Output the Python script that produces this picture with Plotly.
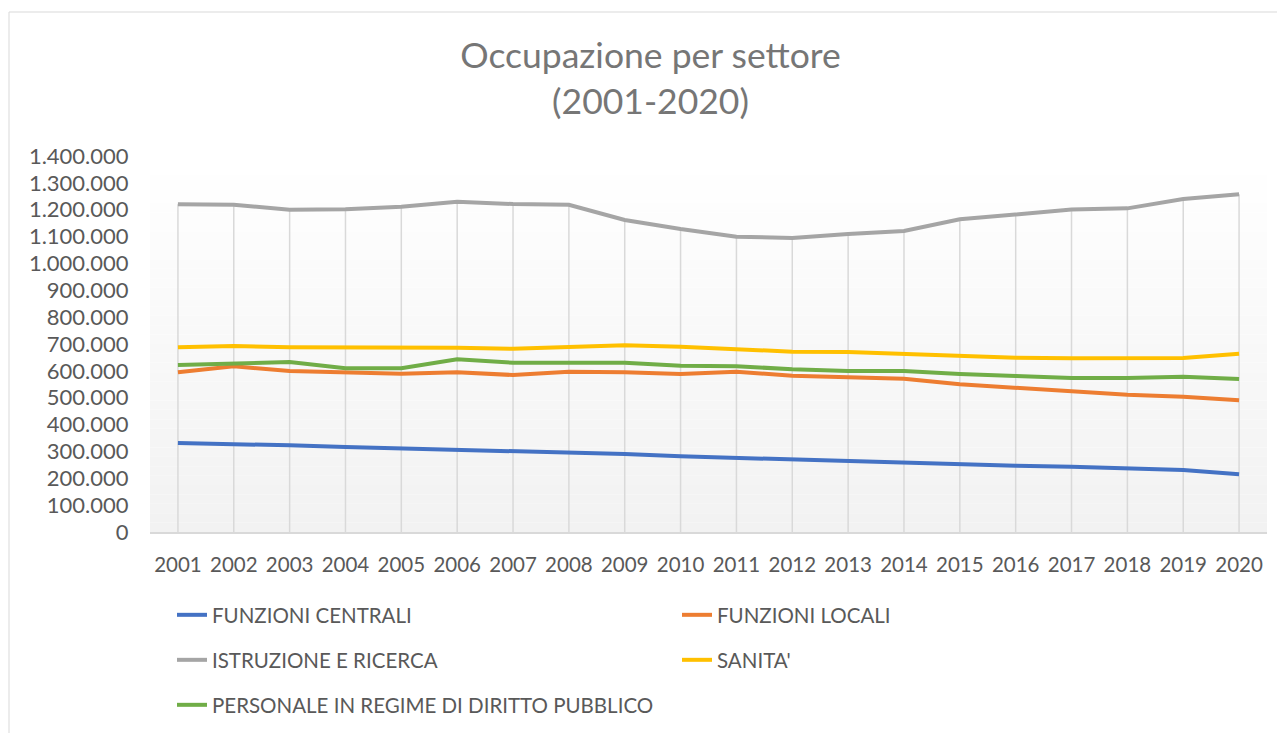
import plotly.graph_objects as go

years = list(range(2001, 2021))

funzioni_centrali = [331300, 328700, 322600, 316500, 311600, 305300, 300400, 296700, 290400, 281800,
                     276000, 266900, 261700, 258000, 249400, 246800, 243100, 235700, 230800, 214800]
funzioni_locali = [594600, 616900, 599400, 594600, 589400, 594600, 584500, 596800, 594600, 588200,
                   596800, 582000, 575900, 570700, 549900, 537300, 526100, 511200, 503700, 490300]
istruzione_ricerca = [1220000, 1218600, 1200000, 1201400, 1211100, 1229700, 1221100, 1218600, 1161600, 1128100,
                      1099400, 1094600, 1109500, 1120600, 1164200, 1182800, 1200500, 1205000, 1239500, 1257300]
sanita = [687600, 692500, 687600, 687600, 687600, 686100, 682400, 689900, 695000, 689900,
          682400, 671300, 670100, 662700, 654100, 648900, 646700, 646700, 647800, 663800]
diritto_pubblico = [621700, 626600, 632900, 609400, 609400, 643000, 630300, 630300, 630300, 619200,
                    617400, 605700, 599400, 599400, 588200, 580800, 573300, 573300, 578200, 569600]

series_names = ["FUNZIONI CENTRALI", "FUNZIONI LOCALI", "ISTRUZIONE E RICERCA", "SANITA'",
                "PERSONALE IN REGIME DI DIRITTO PUBBLICO"]
series_values = [funzioni_centrali, funzioni_locali, istruzione_ricerca, sanita, diritto_pubblico]
series_colors = ["#4472C4", "#ED7D31", "#A5A5A5", "#FFC000", "#70AD47"]
series_legends = ["legend", "legend", "legend2", "legend2", "legend3"]

y_ticks = list(range(0, 1400001, 100000))
y_tick_labels = ["{:,}".format(v).replace(",", ".") for v in y_ticks]

FONT = "Lato"
TXT = "#595959"

fig = go.Figure()

# Drop lines (from axis to highest series value per year)
drop_x, drop_y = [], []
for i, yr in enumerate(years):
    top = max(s[i] for s in series_values)
    drop_x += [yr, yr, None]
    drop_y += [0, top, None]
fig.add_trace(go.Scatter(x=drop_x, y=drop_y, mode="lines",
                         line=dict(color="#d9d9d9", width=1.5),
                         showlegend=False, hoverinfo="skip"))

for name, vals, col, lg in zip(series_names, series_values, series_colors, series_legends):
    fig.add_trace(go.Scatter(x=years, y=vals, mode="lines", name=name,
                             line=dict(color=col, width=4), legend=lg))

# gradient plot background
shapes = []
n = 40
for k in range(n):
    t = k / (n - 1)
    c = int(round(242 + (255 - 242) * t))
    shapes.append(dict(type="rect", xref="x domain", yref="y domain",
                       x0=0, x1=1, y0=k / n, y1=(k + 1) / n,
                       fillcolor=f"rgb({c},{c},{c})", line=dict(width=0), layer="below"))


def lx(px):
    return (px - 150) / 1117


def ly(py):
    return (532 - py) / 376


# chart frame
shapes.append(dict(type="rect", xref="paper", yref="paper",
                   x0=lx(9), x1=lx(1300), y0=ly(745), y1=ly(12),
                   line=dict(color="#d9d9d9", width=1), fillcolor="rgba(0,0,0,0)", layer="below"))

legend_common = dict(orientation="h", xanchor="left", yanchor="middle",
                     font=dict(family=FONT, size=20.5, color=TXT),
                     entrywidth=460, entrywidthmode="pixels",
                     bgcolor="rgba(0,0,0,0)", borderwidth=0, itemclick=False, itemdoubleclick=False)

fig.update_layout(
    width=1285, height=733,
    margin=dict(l=142, r=26, t=148, b=209),
    paper_bgcolor="white",
    plot_bgcolor="rgba(0,0,0,0)",
    title=dict(text="Occupazione per settore<br>(2001-2020)", x=0.5, xanchor="center",
               y=1 - 60 / 733, yanchor="middle",
               font=dict(family=FONT, size=35.5, color="#767676")),
    xaxis=dict(range=[2000.5, 2020.5], tickmode="array", tickvals=years,
               ticktext=[str(y) for y in years], showgrid=False, zeroline=False,
               showline=True, linecolor="#d9d9d9", linewidth=1.5,
               ticks="outside", ticklen=14, tickcolor="rgba(0,0,0,0)",
               tickfont=dict(family=FONT, size=20.5, color=TXT), fixedrange=True),
    yaxis=dict(range=[0, 1400000], tickmode="array", tickvals=y_ticks, ticktext=y_tick_labels,
               showgrid=False, zeroline=False, showline=False,
               ticks="outside", ticklen=16, tickcolor="rgba(0,0,0,0)",
               tickfont=dict(family=FONT, size=22, color=TXT), fixedrange=True),
    shapes=shapes,
    legend=dict(x=lx(172), y=ly(615), **legend_common),
    legend2=dict(x=lx(172), y=ly(660), **legend_common),
    legend3=dict(x=lx(172), y=ly(705), **legend_common),
    hovermode=False,
    showlegend=True,
)

fig.write_html("out.html")
